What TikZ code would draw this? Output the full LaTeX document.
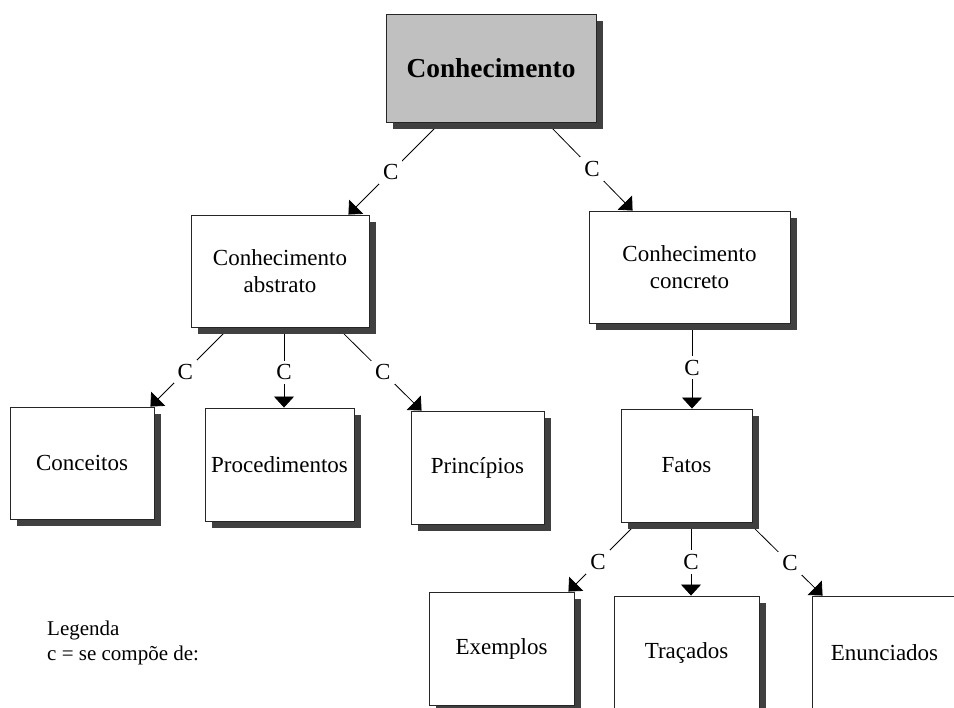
\documentclass[tikz,border=0pt]{standalone}
\usepackage{fontspec}
\setmainfont{Liberation Serif}
\usetikzlibrary{arrows.meta,calc,shadows}
\definecolor{boxgray}{HTML}{C0C0C0}
\definecolor{shadowgray}{HTML}{404040}
\pgfdeclarelayer{paper}
\pgfdeclarelayer{links}
\pgfsetlayers{paper,links,main}
\tikzset{
  concept/.style={draw=black!85, line width=0.9pt, fill=white, inner sep=0pt,
    align=center, font=\fontsize{23}{27}\selectfont,
    drop shadow={shadow xshift=7pt, shadow yshift=-7pt, fill=shadowgray, opacity=1}},
  rootbox/.style={concept, fill=boxgray, font=\fontsize{27.4}{32}\selectfont\bfseries},
  link/.style={line width=0.8pt, -{Triangle[length=11pt, width=20pt]}},
  clabel/.style={fill=white, inner sep=4pt, font=\fontsize{23}{27}\selectfont},
  legendtext/.style={align=left, inner sep=0pt, font=\fontsize{21}{25}\selectfont}
}
\begin{document}
\begin{tikzpicture}[x=1pt, y=-1pt]
\clip (0,0) rectangle (954,708);
\begin{pgfonlayer}{paper}
\fill[white] (0,0) rectangle (954,708);
\end{pgfonlayer}

% concept boxes
\node[rootbox, minimum width=210pt, minimum height=108pt] (top) at (491,68) {Conhecimento};
\node[concept, minimum width=178pt, minimum height=112pt] (abs) at (280,271) {Conhecimento\\abstrato};
\node[concept, minimum width=201pt, minimum height=112pt] (con) at (689.5,267) {Conhecimento\\concreto};
\node[concept, minimum width=144pt, minimum height=112pt] (conc) at (82,463) {Conceitos};
\node[concept, minimum width=149pt, minimum height=113pt] (proc) at (279.5,464.5) {Procedimentos};
\node[concept, minimum width=133pt, minimum height=113pt] (princ) at (477.5,467.5) {Princípios};
\node[concept, minimum width=131pt, minimum height=113pt] (fatos) at (686.5,465.5) {Fatos};
\node[concept, minimum width=145pt, minimum height=113pt] (ex) at (501.5,648.5) {Exemplos};
\node[concept, minimum width=145pt, minimum height=113pt] (tr) at (686.5,652.5) {Traçados};
\node[concept, minimum width=145pt, minimum height=113pt] (en) at (884.5,652.5) {Enunciados};

% "se compõe de" links, kept behind the boxes
\begin{pgfonlayer}{links}
\draw[link] ($(top.south west)+(55,0)$) -- node[clabel, pos=0.54] (c1) {C} ($(abs.north east)+(-21,0)$);
\draw[link] ($(top.south west)+(161,0)$) -- node[clabel, pos=0.53] (c2) {C} ($(con.north west)+(44,0)$);
\draw[link] ($(abs.south west)+(39,0)$) -- node[clabel, pos=0.56] (c3) {C} ($(conc.north east)+(-4,0)$);
\draw[link] ($(abs.south)+(4,0)$) -- node[clabel, pos=0.56] (c4) {C} ($(proc.north)+(4.5,0)$);
\draw[link] ($(abs.south east)+(-32,0)$) -- node[clabel, pos=0.54] (c5) {C} ($(princ.north west)+(11,0)$);
\draw[link] ($(con.south)+(2.5,0)$) -- node[clabel, pos=0.52] (c6) {C} ($(fatos.north)+(5.5,0)$);
\draw[link] ($(fatos.south west)+(17,0)$) -- node[clabel, pos=0.57] (c7) {C} ($(ex.north east)+(-6,0)$);
\draw[link] ($(fatos.south)+(4.5,0)$) -- node[clabel, pos=0.54] (c8) {C} ($(tr.north)+(4.5,0)$);
\draw[link] ($(fatos.south east)+(-4,0)$) -- node[clabel, pos=0.56] (c9) {C} ($(en.north west)+(11,0)$);
\end{pgfonlayer}

% legend
\node[legendtext, anchor=west] (legend) at (47,642.5) {Legenda\\c = se compõe de:};
\end{tikzpicture}
\end{document}
